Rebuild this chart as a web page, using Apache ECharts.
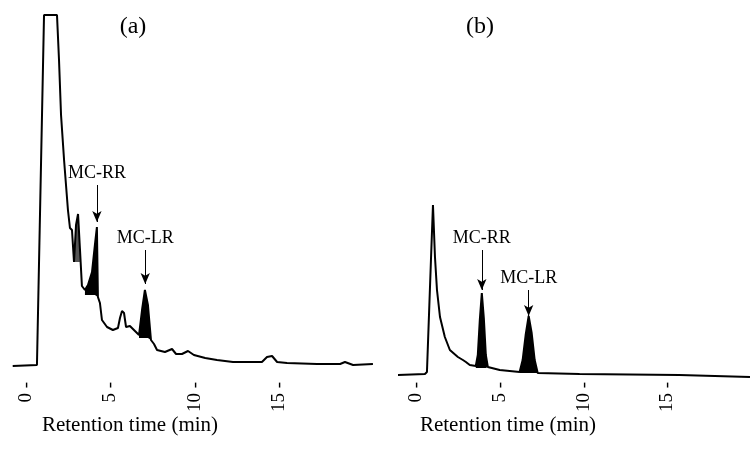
<!DOCTYPE html>
<html>
<head>
<meta charset="utf-8">
<script src="https://cdn.jsdelivr.net/npm/echarts@6/dist/echarts.min.js"></script>
<style>
html, body { margin: 0; padding: 0; background: #fff; }
#chart { width: 751px; height: 462px; }
</style>
</head>
<body>
<div id="chart"></div>
<script>
// panel (a): crude extract, retention time (min) vs detector signal
var timeA = [-0.8, 0.64, 1.06, 1.83, 1.95, 2.07, 2.25, 2.48, 2.6, 2.72, 2.84, 2.96, 3.08, 3.19, 3.31, 3.49, 3.67, 3.91, 4.08, 4.2, 4.26, 4.38, 4.5, 4.8, 5.15, 5.45, 5.57, 5.69, 5.81, 5.93, 6.16, 6.46, 6.7, 6.88, 7.05, 7.23, 7.41, 7.59, 7.77, 8.24, 8.66, 8.9, 9.25, 9.61, 9.96, 10.63, 11.33, 12.28, 14.0, 14.3, 14.6, 14.9, 15.49, 17.27, 18.64, 18.93, 19.41, 20.59];
var signalA = [4, 5, 355, 355, 310, 255, 210, 160, 142, 140, 108, 145, 156, 122, 84, 80, 85, 98, 125, 143, 73, 67, 50, 43, 40, 42, 52, 59, 57, 43, 44, 39, 35, 60, 80, 65, 30, 26, 20, 18, 21, 16, 16, 19, 15, 12, 10, 8, 8, 13, 14, 8, 7, 6, 6, 8, 5, 6];

// panel (b): standards
var timeB = [-1.1, 0.51, 0.63, 0.87, 0.99, 1.11, 1.23, 1.41, 1.7, 2.0, 2.48, 2.78, 2.84, 2.96, 3.19, 3.55, 3.67, 3.79, 3.91, 4.03, 4.15, 4.27, 4.98, 6.17, 6.35, 6.53, 6.71, 6.89, 7.07, 7.25, 9.75, 15.71, 19.94];
var signalB = [-5, -4, -2, 110, 165, 113, 80, 53, 33, 20, 13, 10, 12, 8, 5, 4, 15, 50, 77, 52, 15, 3, 0, -2, 10, 35, 54, 37, 10, -3, -4, -5, -7];

var xTicks = [0, 5, 10, 15];

// shaded peaks: [from, to, base level, colour]
var shadeA = [[2.84, 3.19, 108, '#555'], [3.49, 4.26, 75, '#000'], [6.7, 7.41, 32, '#000']];
var shadeB = [[3.55, 4.27, 2, '#000'], [6.17, 7.25, -3, '#000']];

// arrows: [label, time, from, to]
var arrowsA = [['MC-RR', 4.2, 185, 148], ['MC-LR', 7.07, 120, 86]];
var arrowsB = [['MC-RR', 3.91, 120, 80], ['MC-LR', 6.71, 80, 54]];

var serif = 'Liberation Serif';

function pairs(t, s) {
  return t.map(function (x, i) { return [x, s[i]]; });
}

function panelSeries(idx, t, s, shade, arrows) {
  var out = [];
  shade.forEach(function (p) {
    out.push({
      type: 'line',
      xAxisIndex: idx,
      yAxisIndex: idx,
      data: pairs(t, s).filter(function (d) { return d[0] >= p[0] && d[0] <= p[1]; }),
      symbol: 'none',
      lineStyle: { width: 0 },
      areaStyle: { color: p[3], opacity: 1, origin: p[2] },
      silent: true
    });
  });
  out.push({
    type: 'line',
    xAxisIndex: idx,
    yAxisIndex: idx,
    data: pairs(t, s),
    symbol: 'none',
    lineStyle: { color: '#000', width: 2 },
    markLine: {
      silent: true,
      symbol: ['none', 'arrow'],
      symbolSize: [7, 11],
      lineStyle: { color: '#000', width: 1, type: 'solid' },
      label: {
        show: true,
        position: 'start',
        formatter: '{b}',
        color: '#000',
        fontFamily: serif,
        fontSize: 18,
        distance: 3
      },
      data: arrows.map(function (a) {
        return [{ name: a[0], coord: [a[1], a[2]] }, { coord: [a[1], a[3]] }];
      })
    }
  });
  return out;
}

function xAxisFor(idx, min, max) {
  return {
    type: 'value',
    gridIndex: idx,
    min: min,
    max: max,
    axisLine: { show: false },
    axisTick: { show: false },
    splitLine: { show: false },
    axisLabel: {
      customValues: xTicks,
      rotate: 90,
      margin: 2,
      color: '#000',
      fontFamily: serif,
      fontSize: 19,
      formatter: function (v) { return v + ' -'; }
    }
  };
}

function yAxisFor(idx) {
  return { type: 'value', gridIndex: idx, min: -10, max: 370, show: false };
}

var chart = echarts.init(document.getElementById('chart'));
chart.setOption({
  animation: false,
  grid: [
    { left: 12.7, top: 0, width: 360.4, height: 380 },
    { left: 398, top: 0, width: 354, height: 380 }
  ],
  xAxis: [xAxisFor(0, -0.8, 20.6), xAxisFor(1, -1.1, 20)],
  yAxis: [yAxisFor(0), yAxisFor(1)],
  graphic: [
    { type: 'text', x: 133, y: 27, style: { text: '(a)', font: '24px "Liberation Serif"', fill: '#000', align: 'center', verticalAlign: 'middle' } },
    { type: 'text', x: 480, y: 27, style: { text: '(b)', font: '24px "Liberation Serif"', fill: '#000', align: 'center', verticalAlign: 'middle' } },
    { type: 'text', x: 130, y: 425, style: { text: 'Retention time (min)', font: '21px "Liberation Serif"', fill: '#000', align: 'center', verticalAlign: 'middle' } },
    { type: 'text', x: 508, y: 425, style: { text: 'Retention time (min)', font: '21px "Liberation Serif"', fill: '#000', align: 'center', verticalAlign: 'middle' } }
  ],
  series: panelSeries(0, timeA, signalA, shadeA, arrowsA).concat(panelSeries(1, timeB, signalB, shadeB, arrowsB))
});
</script>
</body>
</html>
